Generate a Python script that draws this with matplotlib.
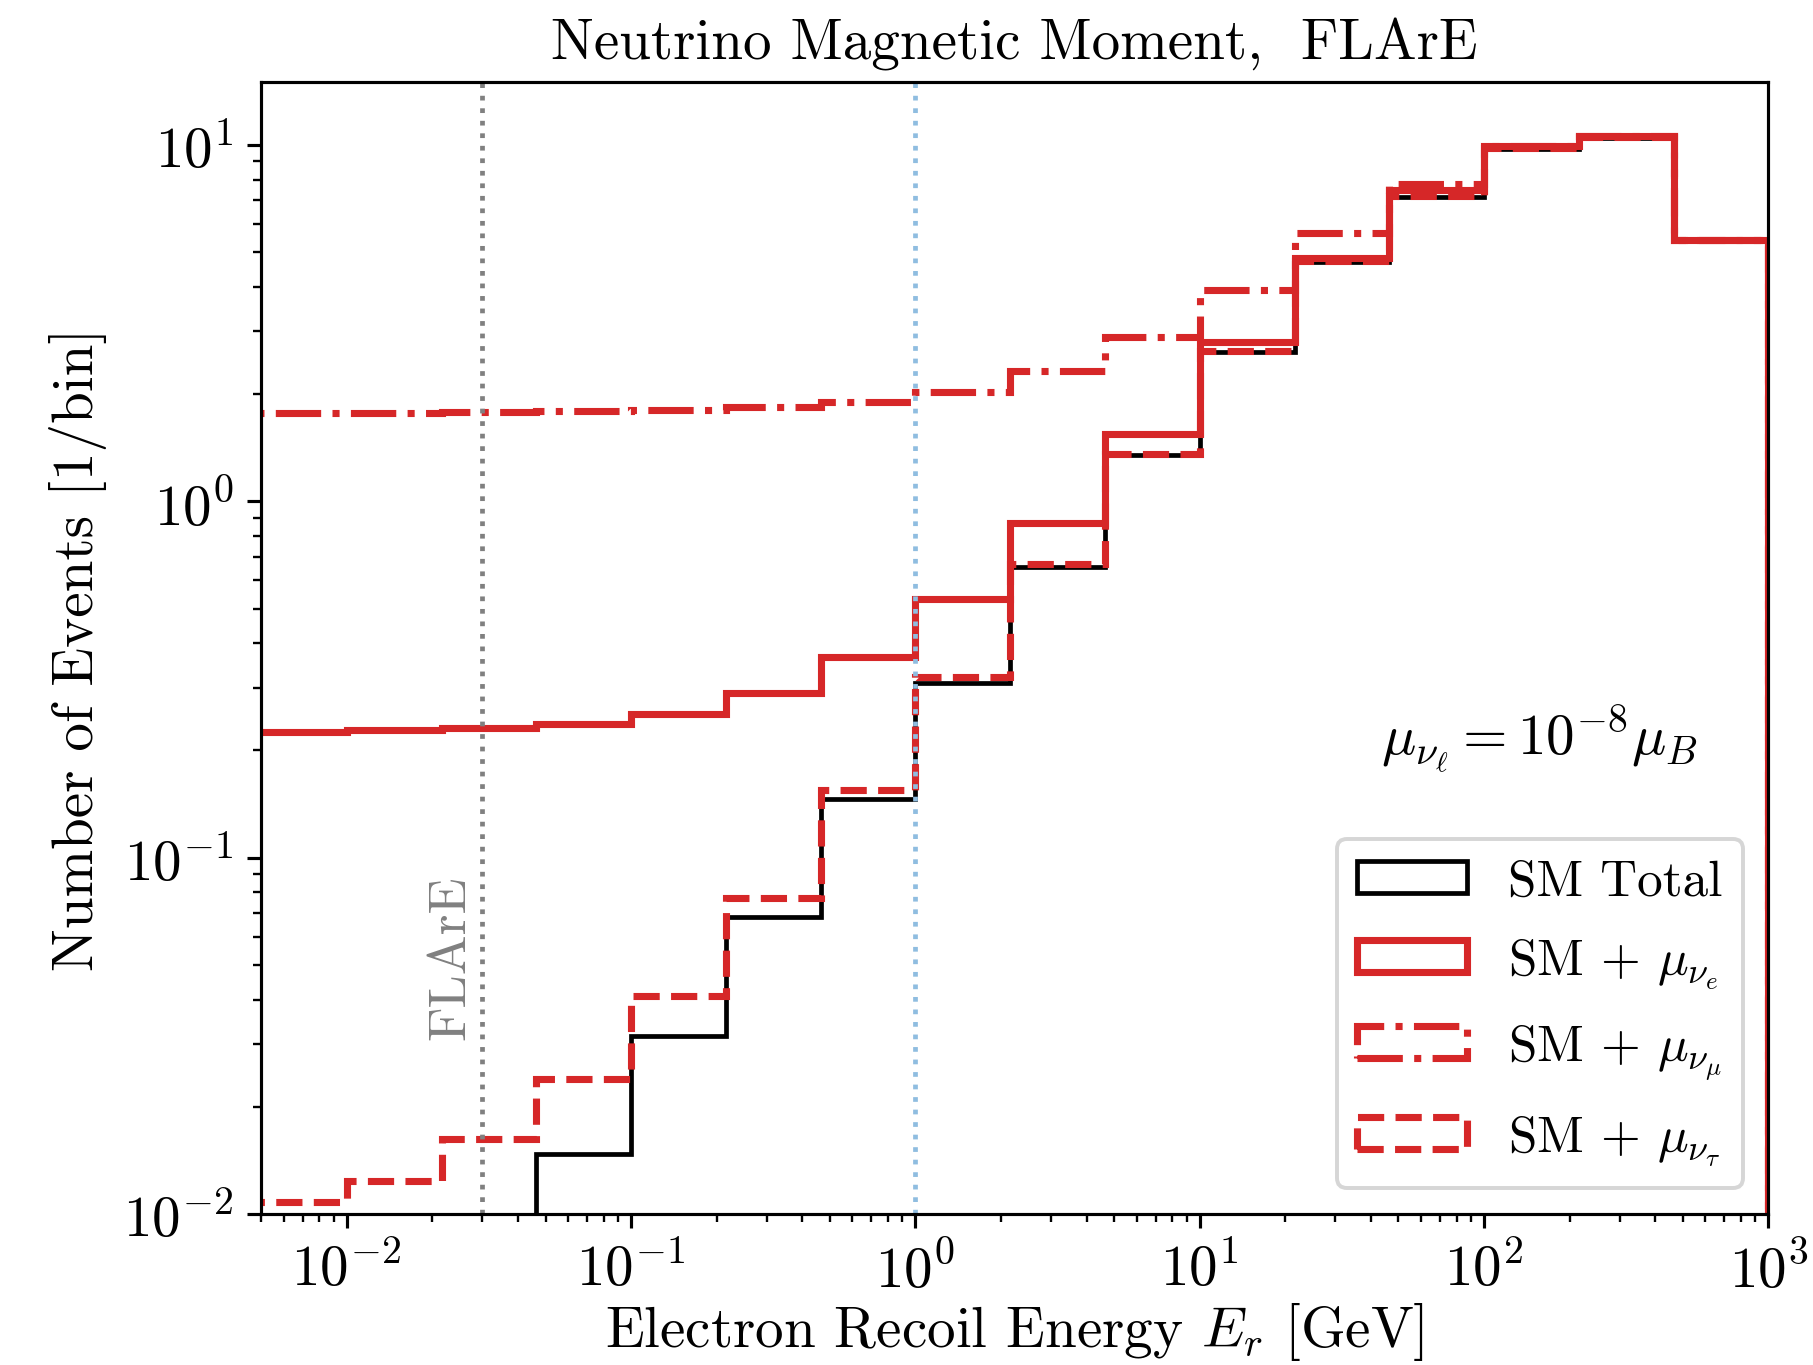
import numpy as np
import matplotlib
matplotlib.use("Agg")
import matplotlib.pyplot as plt

plt.rcParams["font.family"] = "serif"
plt.rcParams["font.serif"] = ["cmr10", "DejaVu Serif"]
plt.rcParams["mathtext.fontset"] = "cm"
plt.rcParams["axes.formatter.use_mathtext"] = True
plt.rcParams["axes.unicode_minus"] = True

# log-spaced bins, 3 per decade
bin_edges = 10.0 ** (np.arange(-7, 10) / 3.0)

sm_total = [0.0015, 0.003, 0.006, 0.0147, 0.0315, 0.0680, 0.146, 0.310, 0.655,
            1.35, 2.63, 4.70, 7.15, 9.75, 10.5, 5.42]
sm_mu_e = [0.225, 0.228, 0.231, 0.237, 0.253, 0.290, 0.367, 0.531, 0.867,
           1.55, 2.81, 4.83, 7.50, 9.95, 10.6, 5.42]
sm_mu_mu = [1.77, 1.77, 1.78, 1.79, 1.80, 1.835, 1.90, 2.03, 2.33,
            2.89, 3.92, 5.66, 7.80, 9.96, 10.6, 5.43]
sm_mu_tau = [0.0108, 0.0124, 0.0162, 0.0240, 0.0410, 0.0773, 0.155, 0.321, 0.667,
             1.36, 2.65, 4.73, 7.20, 9.80, 10.55, 5.42]

red = "#d62728"
fs = 14.5

fig = plt.figure(figsize=(6.4, 4.82), dpi=283.4)
ax = fig.add_axes([0.144, 0.1105, 0.831, 0.8285])

centers = bin_edges[:-1]
ax.hist(centers, bins=bin_edges, weights=sm_total, histtype="step",
        color="black", lw=1.2, label="SM Total")
ax.hist(centers, bins=bin_edges, weights=sm_mu_e, histtype="step",
        color=red, lw=1.8, label=r"SM $+$ $\mu_{\nu_e}$")
ax.hist(centers, bins=bin_edges, weights=sm_mu_mu, histtype="step",
        color=red, lw=1.8, ls="-.", label=r"SM $+$ $\mu_{\nu_\mu}$")
ax.hist(centers, bins=bin_edges, weights=sm_mu_tau, histtype="step",
        color=red, lw=1.8, ls="--", label=r"SM $+$ $\mu_{\nu_\tau}$")

ax.axvline(0.03, color="gray", ls=":", lw=1.2)
ax.axvline(1.0, color="#8fbde0", ls=":", lw=1.2)
ax.text(0.028, 0.031, "FLArE", rotation=90, color="gray", fontsize=13.5,
        ha="right", va="bottom")

ax.text(0.848, 0.42, r"$\mu_{\nu_\ell} = 10^{-8}\mu_B$", transform=ax.transAxes,
        fontsize=fs, ha="center", va="center")

ax.set_xscale("log")
ax.set_yscale("log")
ax.set_xlim(5e-3, 1e3)
ax.set_ylim(1e-2, 15)
ax.tick_params(labelsize=fs)

ax.set_xlabel(r"Electron Recoil Energy $E_r$ [GeV]", fontsize=fs, labelpad=0.5)
ax.set_ylabel("Number of Events [1/bin]", fontsize=fs)
ax.set_title("Neutrino Magnetic Moment,  FLArE", fontsize=fs)

ax.legend(loc="lower right", fontsize=13, handlelength=2.15, handleheight=0.6,
          labelspacing=0.62)

fig.savefig("out.png", dpi=283.4)
